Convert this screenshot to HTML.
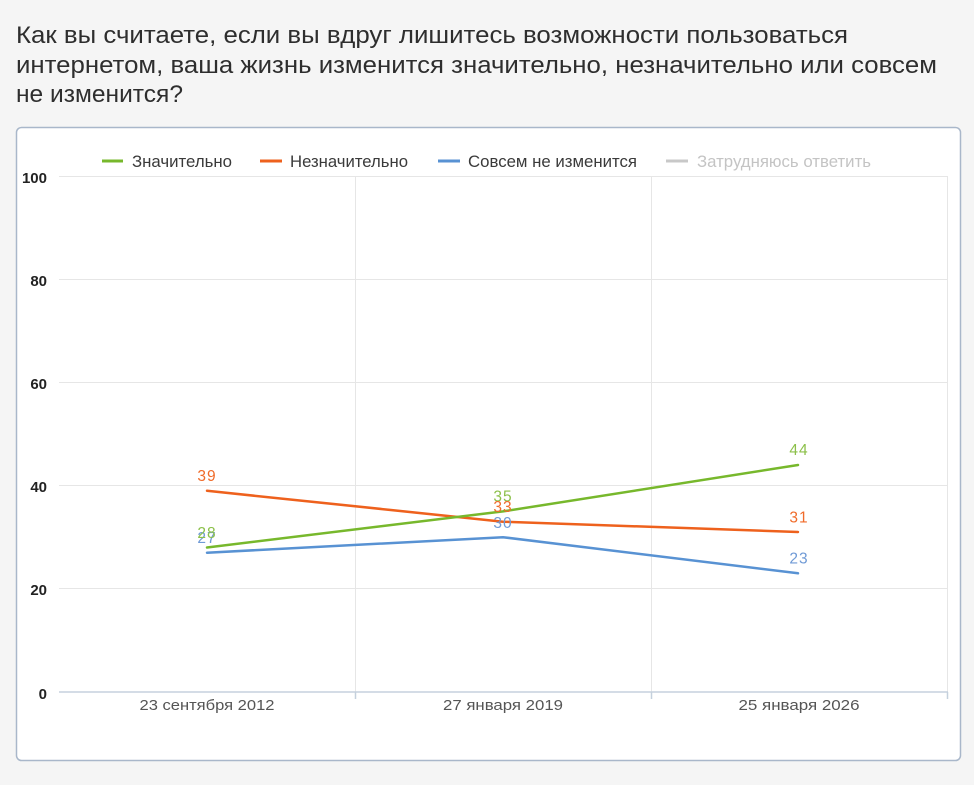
<!DOCTYPE html>
<html>
<head>
<meta charset="utf-8">
<style>
  html, body { margin:0; padding:0; background:#f5f5f5; }
  body { width:974px; height:785px; overflow:hidden; }
  svg { display:block; }
  text { font-family: "Liberation Sans", "DejaVu Sans", sans-serif; }
</style>
</head>
<body>
<svg width="974" height="785" viewBox="0 0 974 785" xmlns="http://www.w3.org/2000/svg">
  <rect x="0" y="0" width="974" height="785" fill="#f5f5f5"/>

  <!-- Title -->
  <g fill="#2e2e2e" font-size="24">
    <text x="16" y="43" textLength="832" lengthAdjust="spacingAndGlyphs">Как вы считаете, если вы вдруг лишитесь возможности пользоваться</text>
    <text x="16" y="73" textLength="921" lengthAdjust="spacingAndGlyphs">интернетом, ваша жизнь изменится значительно, незначительно или совсем</text>
    <text x="16" y="102" textLength="167" lengthAdjust="spacingAndGlyphs">не изменится?</text>
  </g>

  <!-- Card -->
  <rect x="16.5" y="127.5" width="944" height="633" rx="5" ry="5" fill="#ffffff" stroke="#a9b7ca" stroke-width="1.5"/>

  <!-- Legend -->
  <g stroke-width="3">
    <line x1="102" y1="161" x2="123" y2="161" stroke="#77b82c"/>
    <line x1="260" y1="161" x2="282" y2="161" stroke="#ee611d"/>
    <line x1="438" y1="161" x2="460" y2="161" stroke="#5892d3"/>
    <line x1="666" y1="161" x2="688" y2="161" stroke="#c8c8c8"/>
  </g>
  <g font-size="17">
    <text x="132" y="167" fill="#3a3a3a" textLength="100" lengthAdjust="spacingAndGlyphs">Значительно</text>
    <text x="290" y="167" fill="#3a3a3a" textLength="118" lengthAdjust="spacingAndGlyphs">Незначительно</text>
    <text x="468" y="167" fill="#3a3a3a" textLength="169" lengthAdjust="spacingAndGlyphs">Совсем не изменится</text>
    <text x="697" y="167" fill="#c4c4c4" textLength="174" lengthAdjust="spacingAndGlyphs">Затрудняюсь ответить</text>
  </g>

  <!-- Grid -->
  <g stroke="#e6e6e6" stroke-width="1">
    <line x1="59" y1="176.5" x2="947" y2="176.5"/>
    <line x1="59" y1="279.5" x2="947" y2="279.5"/>
    <line x1="59" y1="382.5" x2="947" y2="382.5"/>
    <line x1="59" y1="485.5" x2="947" y2="485.5"/>
    <line x1="59" y1="588.5" x2="947" y2="588.5"/>
    <line x1="355.5" y1="176" x2="355.5" y2="692"/>
    <line x1="651.5" y1="176" x2="651.5" y2="692"/>
    <line x1="947.5" y1="176" x2="947.5" y2="692"/>
  </g>
  <!-- Axis -->
  <g stroke="#c5d0dd" stroke-width="1.5">
    <line x1="59" y1="692" x2="948" y2="692"/>
    <line x1="355.5" y1="692" x2="355.5" y2="699"/>
    <line x1="651.5" y1="692" x2="651.5" y2="699"/>
    <line x1="947.5" y1="692" x2="947.5" y2="699"/>
  </g>

  <!-- Y labels -->
  <g font-size="15" font-weight="bold" fill="#222" text-anchor="end">
    <text x="47" y="183">100</text>
    <text x="47" y="286">80</text>
    <text x="47" y="389">60</text>
    <text x="47" y="492">40</text>
    <text x="47" y="595">20</text>
    <text x="47" y="699">0</text>
  </g>

  <!-- X labels -->
  <g font-size="15" fill="#555" text-anchor="middle">
    <text x="207" y="710" textLength="135" lengthAdjust="spacingAndGlyphs">23 сентября 2012</text>
    <text x="503" y="710" textLength="120" lengthAdjust="spacingAndGlyphs">27 января 2019</text>
    <text x="799" y="710" textLength="121" lengthAdjust="spacingAndGlyphs">25 января 2026</text>
  </g>

  <!-- Series -->
  <g fill="none" stroke-width="2.5" stroke-linejoin="round" stroke-linecap="round">
    <polyline points="207,552.7 503,537.2 798,573.3" stroke="#5892d3"/>
    <polyline points="207,490.8 503,521.7 798,532" stroke="#ee611d"/>
    <polyline points="207,547.5 503,511.4 798,465" stroke="#77b82c"/>
  </g>

  <!-- Data labels -->
  <g font-size="15.5" text-anchor="middle" letter-spacing="1">
    <text x="207" y="543" fill="#6f9ad6">27</text>
    <text x="207" y="538" fill="#8cc04a">28</text>
    <text x="503" y="501.5" fill="#8cc04a">35</text>
    <text x="503" y="528" fill="#6f9ad6">30</text>
    <text x="503" y="512" fill="#f06b2a">33</text>
    <text x="207" y="481" fill="#f06b2a">39</text>
    <text x="799" y="455" fill="#8cc04a">44</text>
    <text x="799" y="522.5" fill="#f06b2a">31</text>
    <text x="799" y="563.5" fill="#6f9ad6">23</text>
  </g>
</svg>
</body>
</html>
